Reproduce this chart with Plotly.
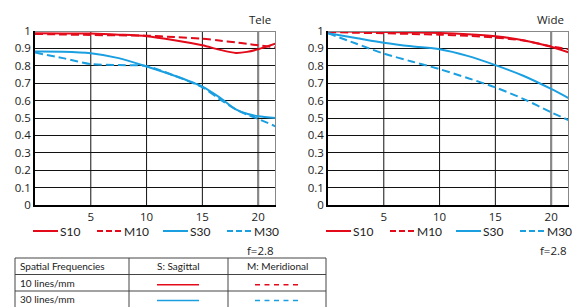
import plotly.graph_objects as go

W, H = 572, 307

# ---------------- data ----------------
freq_tele = [0, 2.5, 5, 7.5, 10, 12.5, 15, 16.5, 18, 19, 20, 21.6]
tele_S10 = [0.987, 0.986, 0.985, 0.979, 0.970, 0.947, 0.918, 0.893, 0.874, 0.880, 0.895, 0.928]
tele_M10 = [0.983, 0.980, 0.977, 0.975, 0.973, 0.965, 0.956, 0.945, 0.935, 0.926, 0.918, 0.905]
tele_S30 = [0.882, 0.881, 0.872, 0.844, 0.796, 0.743, 0.680, 0.620, 0.550, 0.524, 0.510, 0.500]
tele_M30 = [0.876, 0.844, 0.810, 0.804, 0.798, 0.743, 0.676, 0.610, 0.549, 0.520, 0.495, 0.451]

freq_wide = [0, 2.5, 5, 7.5, 10, 12.5, 15, 17.5, 20, 21.6]
wide_S10 = [0.998, 0.996, 0.994, 0.992, 0.989, 0.982, 0.970, 0.947, 0.909, 0.876]
wide_M10 = [0.994, 0.990, 0.987, 0.983, 0.979, 0.972, 0.962, 0.945, 0.912, 0.895]
wide_S30 = [0.987, 0.960, 0.933, 0.912, 0.895, 0.857, 0.804, 0.743, 0.667, 0.613]
wide_M30 = [0.987, 0.928, 0.870, 0.825, 0.781, 0.730, 0.676, 0.610, 0.533, 0.486]

x_ticks = [5, 10, 15, 20]
x_grid_colors = ["#111", "#111", "#111", "#888"]
y_ticks = [0, 0.1, 0.2, 0.3, 0.4, 0.5, 0.6, 0.7, 0.8, 0.9, 1]
y_ticktext = ["0", "0.1", "0.2", "0.3", "0.4", "0.5", "0.6", "0.7", "0.8", "0.9", "1"]
x_max = 21.6

series_names = ["S10", "M10", "S30", "M30"]
panel_titles = ["Tele", "Wide"]
aperture = "f=2.8"
table_header = ["Spatial Frequencies", "S: Sagittal", "M: Meridional"]
table_rows = ["10 lines/mm", "30 lines/mm"]

RED = "#e30a1a"
BLUE = "#1a9fe0"
colors = [RED, RED, BLUE, BLUE]
dashes = ["solid", "8px,4px", "solid", "8px,4px"]

FONT = "Open Sans"
LFONT = "Lato"

# ---------------- layout geometry (pixels) ----------------
panels = [
    dict(x0=35, x1=276, data=(freq_tele, [tele_S10, tele_M10, tele_S30, tele_M30])),
    dict(x0=328, x1=569, data=(freq_wide, [wide_S10, wide_M10, wide_S30, wide_M30])),
]
py0, py1 = 31, 205


def fx(px):
    return px / W


def fy(py):
    return 1 - py / H


fig = go.Figure()
shapes = []
annotations = []

for i, p in enumerate(panels):
    xa = "x" if i == 0 else "x2"
    ya = "y" if i == 0 else "y2"
    freqs, ys = p["data"]
    for name, col, dash, vals in zip(series_names, colors, dashes, ys):
        fig.add_trace(go.Scatter(
            x=freqs, y=vals, mode="lines", name=name,
            line=dict(color=col, width=2, dash=dash, shape="spline", smoothing=0.8),
            xaxis=xa, yaxis=ya, showlegend=False, hoverinfo="skip",
        ))
    axkey = "" if i == 0 else "2"
    fig.layout["xaxis" + axkey] = dict(
        domain=[fx(p["x0"]), fx(p["x1"])], range=[0, x_max], anchor=ya,
        tickvals=x_ticks, ticks="", showgrid=False,
        showline=True, linecolor="#000", linewidth=1.5, zeroline=False, automargin=False,
        tickfont=dict(family=FONT, size=11.5, color="#222"), fixedrange=True,
    )
    fig.layout["yaxis" + axkey] = dict(
        domain=[fy(py1), fy(py0)], range=[0, 1], anchor=xa,
        tickvals=y_ticks, ticktext=y_ticktext, ticks="", showgrid=True,
        gridcolor="#111", gridwidth=1, showline=True, linecolor="#000",
        linewidth=1.5, zeroline=False, automargin=False,
        tickfont=dict(family=FONT, size=11.5, color="#222"), fixedrange=True,
    )
    # vertical grid lines at the x ticks
    for xv, gc in zip(x_ticks, x_grid_colors):
        shapes.append(dict(type="line", xref=xa, yref=ya, layer="below",
                           x0=xv, x1=xv, y0=0, y1=1,
                           line=dict(color=gc, width=1 if gc == "#111" else 2.2)))
    # gray frame lines (top, right)
    for s in [
        dict(x0=x_max, x1=x_max, y0=0, y1=1),
        dict(x0=0, x1=x_max, y0=1, y1=1),
    ]:
        shapes.append(dict(type="line", xref=xa, yref=ya, layer="above",
                           line=dict(color="#888", width=2), **s))
    # panel title
    annotations.append(dict(text=panel_titles[i], x=fx(p["x1"] - 3), y=fy(19),
                            xref="paper", yref="paper", xanchor="right", yanchor="middle",
                            showarrow=False, font=dict(family=FONT, size=11.5, color="#222")))
    # legend
    off = p["x0"] - 35
    leg_x = [33, 97, 163, 227]
    for name, col, dash, lx in zip(series_names, colors, dashes, leg_x):
        d = "solid" if dash == "solid" else "6px,3px"
        shapes.append(dict(type="line", xref="paper", yref="paper",
                           x0=fx(lx + off), x1=fx(lx + off + 25), y0=fy(231), y1=fy(231),
                           line=dict(color=col, width=2, dash=d)))
        annotations.append(dict(text=name, x=fx(lx + off + 25), y=fy(231),
                                xref="paper", yref="paper", xanchor="left", yanchor="middle",
                                showarrow=False, font=dict(family=LFONT, size=12, color="#222")))
    annotations.append(dict(text=aperture, x=fx(p["x1"]), y=fy(250),
                            xref="paper", yref="paper", xanchor="right", yanchor="middle",
                            showarrow=False, font=dict(family=FONT, size=11.5, color="#222")))

# ---------------- table ----------------
tx0, tx1 = 15, 326
cols = [15, 129, 228, 326]
rows = [258, 274.5, 291, 308]
for r in rows[:-1]:
    shapes.append(dict(type="line", xref="paper", yref="paper", x0=fx(tx0), x1=fx(tx1),
                       y0=fy(r), y1=fy(r), line=dict(color="#444", width=1)))
for c in cols:
    shapes.append(dict(type="line", xref="paper", yref="paper", x0=fx(c), x1=fx(c),
                       y0=fy(rows[0]), y1=fy(rows[-1]), line=dict(color="#444", width=1)))
tfont = dict(family=LFONT, size=10, color="#222")
annotations.append(dict(text=table_header[0], x=fx(18), y=fy((rows[0] + rows[1]) / 2),
                        xref="paper", yref="paper", xanchor="left", yanchor="middle",
                        showarrow=False, font=tfont))
for k in (1, 2):
    annotations.append(dict(text=table_header[k], x=fx((cols[k] + cols[k + 1]) / 2),
                            y=fy((rows[0] + rows[1]) / 2), xref="paper", yref="paper",
                            xanchor="center", yanchor="middle", showarrow=False, font=tfont))
for j, (label, col) in enumerate(zip(table_rows, [RED, BLUE])):
    yc = min((rows[j + 1] + rows[j + 2]) / 2, 298.5)
    annotations.append(dict(text=label, x=fx(18), y=fy(yc), xref="paper", yref="paper",
                            xanchor="left", yanchor="middle", showarrow=False, font=tfont))
    shapes.append(dict(type="line", xref="paper", yref="paper", x0=fx(157), x1=fx(199),
                       y0=fy(yc + 2), y1=fy(yc + 2), line=dict(color=col, width=1.5)))
    shapes.append(dict(type="line", xref="paper", yref="paper", x0=fx(255), x1=fx(299),
                       y0=fy(yc + 2), y1=fy(yc + 2),
                       line=dict(color=col, width=1.5, dash="5px,4.5px")))

fig.update_layout(
    width=W, height=H, margin=dict(l=0, r=0, t=0, b=0, autoexpand=False),
    paper_bgcolor="white", plot_bgcolor="white",
    shapes=shapes, annotations=annotations, showlegend=False,
)

post = (
    "document.documentElement.style.margin='0';"
    "document.body.style.margin='0';"
    "document.body.style.padding='0';"
    "document.body.style.overflow='hidden';"
    "document.documentElement.style.overflow='hidden';"
)

fig.write_html("out.html", config={"displayModeBar": False}, post_script=post)
